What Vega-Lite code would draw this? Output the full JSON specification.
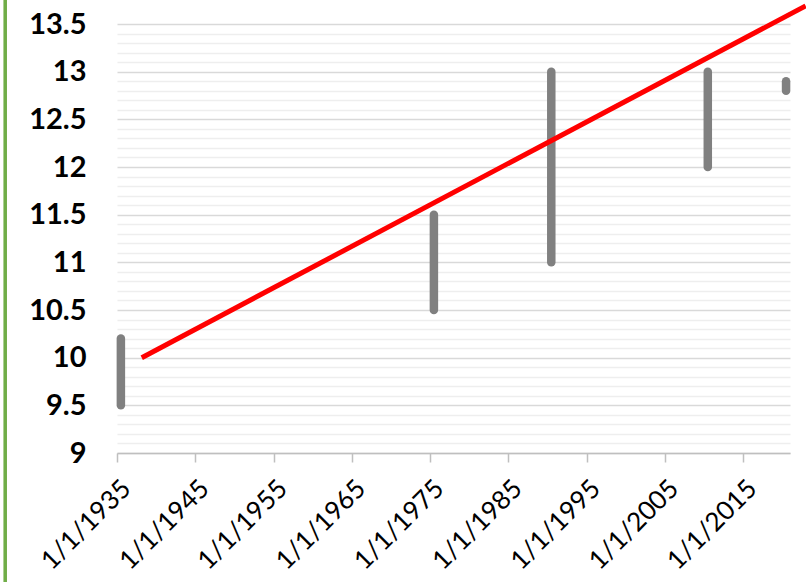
{
  "$schema": "https://vega.github.io/schema/vega-lite/v6.json",
  "width": 673,
  "height": 429,
  "autosize": {"type": "none"},
  "padding": {"left": 117, "top": 24, "right": 16, "bottom": 129},
  "background": "white",
  "config": {"view": {"stroke": null}, "font": "Lato"},
  "data": {
    "values": [
      {"series": "range", "date": "1935-07-01", "value": 9.5, "high": 10.2},
      {"series": "range", "date": "1975-07-01", "value": 10.5, "high": 11.5},
      {"series": "range", "date": "1990-07-01", "value": 11.0, "high": 13.0},
      {"series": "range", "date": "2010-07-01", "value": 12.0, "high": 13.0},
      {"series": "range", "date": "2020-07-01", "value": 12.8, "high": 12.9},
      {"series": "trend", "date": "1938-03-01", "value": 10.0},
      {"series": "trend", "date": "2023-01-01", "value": 13.69}
    ]
  },
  "encoding": {
    "x": {
      "field": "date",
      "type": "temporal",
      "scale": {
        "type": "utc",
        "domain": [
          {"year": 1935, "month": 1, "date": 1, "utc": true},
          {"year": 2021, "month": 1, "date": 1, "utc": true}
        ]
      },
      "axis": {
        "values": [
          {"year": 1935, "month": 1, "date": 1, "utc": true},
          {"year": 1945, "month": 1, "date": 1, "utc": true},
          {"year": 1955, "month": 1, "date": 1, "utc": true},
          {"year": 1965, "month": 1, "date": 1, "utc": true},
          {"year": 1975, "month": 1, "date": 1, "utc": true},
          {"year": 1985, "month": 1, "date": 1, "utc": true},
          {"year": 1995, "month": 1, "date": 1, "utc": true},
          {"year": 2005, "month": 1, "date": 1, "utc": true},
          {"year": 2015, "month": 1, "date": 1, "utc": true}
        ],
        "labelExpr": "(utcmonth(datum.value) + 1) + '/' + utcdate(datum.value) + '/' + utcyear(datum.value)",
        "labelAngle": -45,
        "labelAlign": "right",
        "labelBaseline": "top",
        "labelFontSize": 26,
        "labelColor": "#000000",
        "labelPadding": 13,
        "labelOverlap": false,
        "labelBound": false,
        "grid": false,
        "domainColor": "#bfbfbf",
        "domainWidth": 1.5,
        "tickColor": "#bfbfbf",
        "tickWidth": 1.5,
        "tickSize": 9,
        "title": null
      }
    },
    "y": {
      "field": "value",
      "type": "quantitative",
      "scale": {"domain": [9, 13.5]},
      "axis": {
        "values": [9, 9.1, 9.2, 9.3, 9.4, 9.5, 9.6, 9.7, 9.8, 9.9, 10, 10.1, 10.2, 10.3, 10.4, 10.5, 10.6, 10.7, 10.8, 10.9, 11, 11.1, 11.2, 11.3, 11.4, 11.5, 11.6, 11.7, 11.8, 11.9, 12, 12.1, 12.2, 12.3, 12.4, 12.5, 12.6, 12.7, 12.8, 12.9, 13, 13.1, 13.2, 13.3, 13.4, 13.5],
        "labelExpr": "abs(datum.value * 2 - round(datum.value * 2)) < 0.001 ? format(datum.value, '~g') : ''",
        "ticks": false,
        "domain": false,
        "grid": true,
        "gridColor": {
          "condition": {"test": "abs(datum.value * 2 - round(datum.value * 2)) < 0.001", "value": "#d9d9d9"},
          "value": "#eeeeee"
        },
        "gridWidth": 1.5,
        "labelFontSize": 29,
        "labelFontWeight": "bold",
        "labelColor": "#000000",
        "labelPadding": 31,
        "labelOverlap": false,
        "title": null
      }
    }
  },
  "layer": [
    {
      "mark": {"type": "rule", "color": "#70ad47", "strokeWidth": 2.5, "clip": false},
      "encoding": {
        "x": {"datum": {"year": 1920, "month": 9, "date": 15, "utc": true}},
        "y": {"datum": 7.6},
        "y2": {"datum": 13.8}
      }
    },
    {
      "transform": [{"filter": "datum.series === 'range'"}],
      "mark": {"type": "rule", "color": "#808080", "strokeWidth": 8.5, "strokeCap": "round"},
      "encoding": {"y2": {"field": "high"}}
    },
    {
      "transform": [{"filter": "datum.series === 'trend'"}],
      "mark": {"type": "line", "color": "#ff0000", "strokeWidth": 5, "strokeCap": "butt", "clip": false},
      "encoding": {}
    }
  ]
}
